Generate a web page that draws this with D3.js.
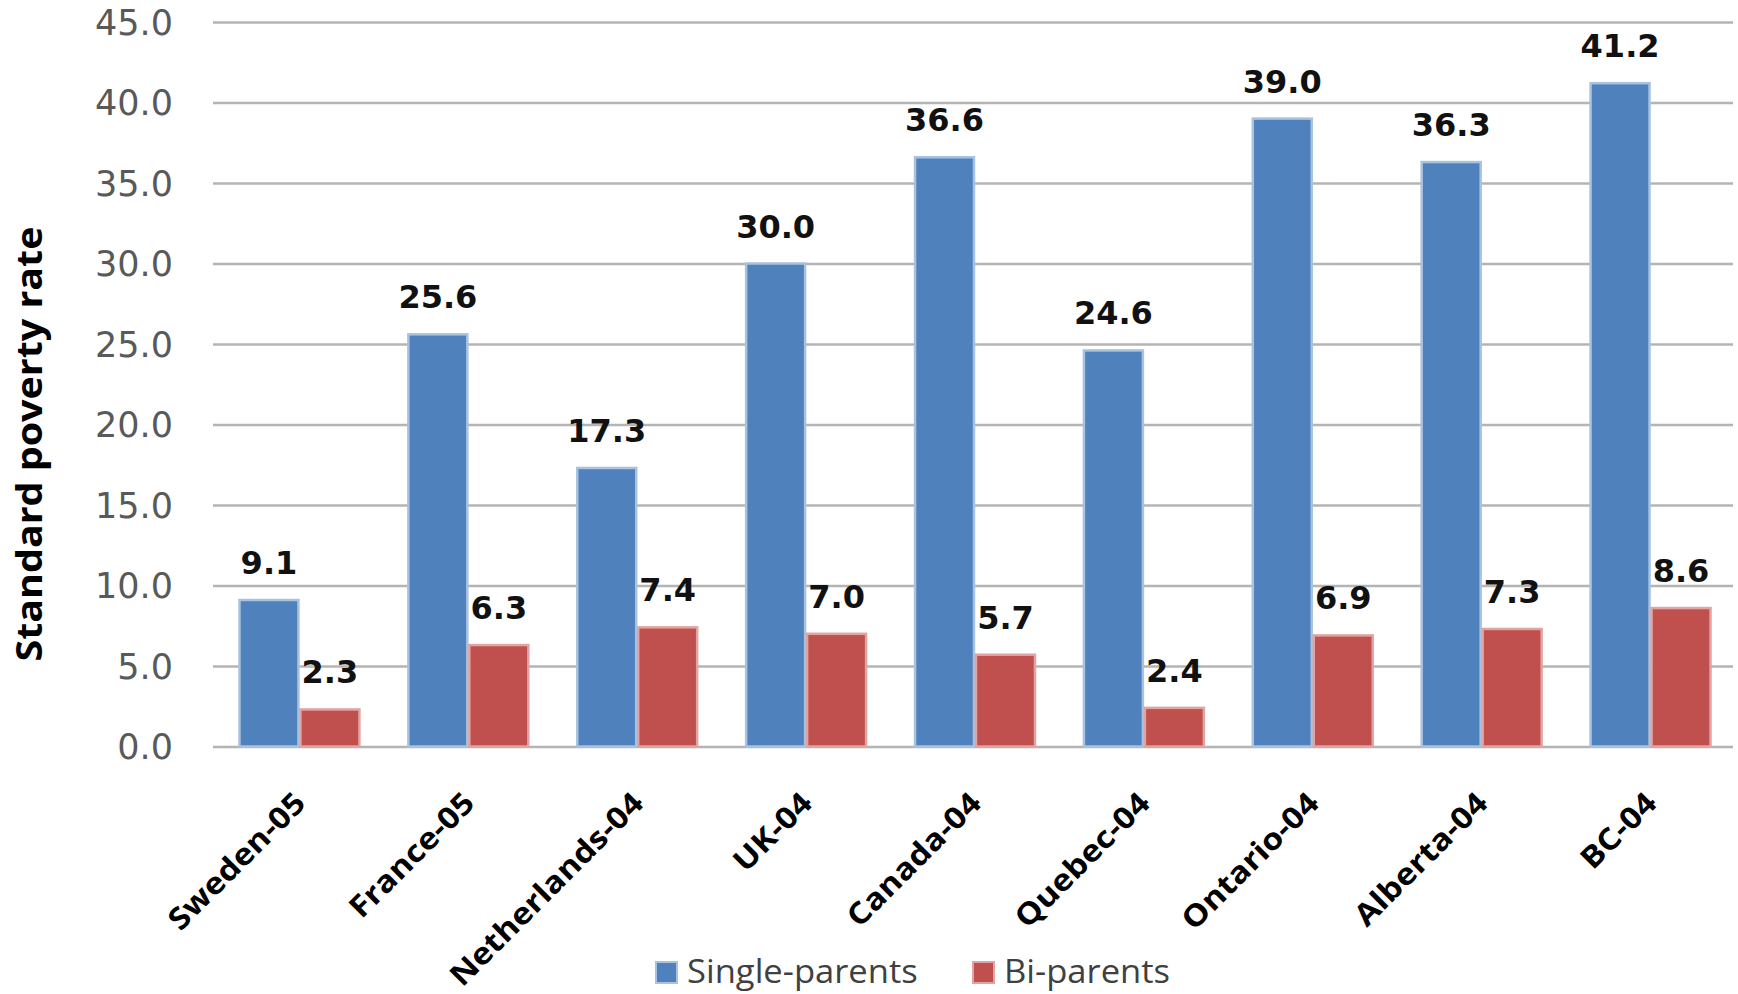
<!DOCTYPE html>
<html>
<head>
<meta charset="utf-8">
<script src="https://cdn.jsdelivr.net/npm/d3@7"></script>
<style>
  html, body { margin: 0; padding: 0; background: #ffffff; }
  svg { display: block; }
</style>
</head>
<body>
<svg id="chart" width="1738" height="994"></svg>
<script>
// Poverty rates for single-parent and bi-parent families
const categories = ["Sweden-05", "France-05", "Netherlands-04", "UK-04", "Canada-04",
                    "Quebec-04", "Ontario-04", "Alberta-04", "BC-04"];
const singleParents = [9.1, 25.6, 17.3, 30.0, 36.6, 24.6, 39.0, 36.3, 41.2];
const biParents     = [2.3, 6.3, 7.4, 7.0, 5.7, 2.4, 6.9, 7.3, 8.6];
const seriesNames   = ["Single-parents", "Bi-parents"];
const yTicks        = [0, 5, 10, 15, 20, 25, 30, 35, 40, 45];
const yTitle        = "Standard poverty rate";

const colors = { fill: ["#4f81bd", "#c0504d"], edge: ["#a9c2e0", "#e0a4a2"] };

const svg = d3.select("#chart");
const plot = { left: 213, right: 1733, top: 22, bottom: 746.5 };

const x0 = d3.scaleBand()
  .domain(categories)
  .range([plot.left, plot.right])
  .paddingInner(0.278)
  .paddingOuter(0.139);

const x1 = d3.scaleBand()
  .domain(seriesNames)
  .range([0, x0.bandwidth()]);

const y = d3.scaleLinear()
  .domain([0, 45])
  .range([plot.bottom, plot.top]);

// Widen a text run horizontally (narrow-face look) without changing its height
function widen(selection, factor) {
  selection.each(function () {
    const len = this.getComputedTextLength();
    d3.select(this)
      .attr("textLength", len * factor)
      .attr("lengthAdjust", "spacingAndGlyphs");
  });
}

// Horizontal gridlines with tick labels
const yAxis = d3.axisLeft(y)
  .tickValues(yTicks)
  .tickFormat(d3.format(".1f"))
  .tickSize(-(plot.right - plot.left))
  .tickPadding(40);

const gy = svg.append("g")
  .attr("transform", `translate(${plot.left},0)`)
  .call(yAxis);
gy.select(".domain").remove();
gy.selectAll(".tick line")
  .attr("stroke", "#b4b4b4")
  .attr("stroke-width", 2.5);
gy.selectAll(".tick text")
  .attr("fill", "#595959")
  .attr("font-family", "DejaVu Sans")
  .attr("font-size", 35)
  .attr("dy", "0.35em");

// Bars
const rows = categories.map((c, i) => ({
  category: c,
  values: [
    { series: seriesNames[0], value: singleParents[i], idx: 0 },
    { series: seriesNames[1], value: biParents[i], idx: 1 }
  ]
}));

const groups = svg.append("g").selectAll("g")
  .data(rows)
  .join("g")
  .attr("transform", d => `translate(${x0(d.category) + 2},0)`);

groups.selectAll("rect")
  .data(d => d.values)
  .join("rect")
  .attr("x", d => x1(d.series) + 1)
  .attr("y", d => y(d.value))
  .attr("width", x1.bandwidth() - 2)
  .attr("height", d => y(0) - y(d.value))
  .attr("fill", d => colors.fill[d.idx])
  .attr("stroke", d => colors.edge[d.idx])
  .attr("stroke-width", 2.5);

// Value labels above bars
groups.selectAll("text.value")
  .data(d => d.values)
  .join("text")
  .attr("class", "value")
  .attr("x", d => x1(d.series) + x1.bandwidth() / 2)
  .attr("y", d => y(d.value) - 26)
  .attr("text-anchor", "middle")
  .attr("font-family", "DejaVu Sans")
  .attr("font-weight", "bold")
  .attr("font-size", 32)
  .attr("fill", "#111111")
  .text(d => d3.format(".1f")(d.value));

// Rotated category labels
svg.append("g").selectAll("text")
  .data(categories)
  .join("text")
  .attr("transform", d => `translate(${x0(d) + x0.bandwidth() / 2 + 10},805) rotate(-45)`)
  .attr("text-anchor", "end")
  .attr("font-family", "Open Sans")
  .attr("font-weight", "bold")
  .attr("font-size", 30)
  .attr("fill", "#000000")
  .text(d => d)
  .call(widen, 1.12);

// Y-axis title
svg.append("text")
  .attr("transform", "translate(42,444) rotate(-90)")
  .attr("text-anchor", "middle")
  .attr("font-family", "Open Sans")
  .attr("font-weight", "bold")
  .attr("font-size", 36)
  .attr("textLength", 435)
  .attr("lengthAdjust", "spacingAndGlyphs")
  .attr("fill", "#000000")
  .text(yTitle);

// Legend
const legendX = [656, 973];
const legend = svg.append("g").selectAll("g")
  .data(seriesNames)
  .join("g")
  .attr("transform", (d, i) => `translate(${legendX[i]},962)`);
legend.append("rect")
  .attr("width", 21)
  .attr("height", 21)
  .attr("fill", (d, i) => colors.fill[i])
  .attr("stroke", (d, i) => colors.edge[i])
  .attr("stroke-width", 2);
legend.append("text")
  .attr("x", 31)
  .attr("y", 21)
  .attr("font-family", "Open Sans")
  .attr("font-size", 32)
  .attr("fill", "#404040")
  .text(d => d)
  .call(widen, 1.08);
</script>
</body>
</html>
